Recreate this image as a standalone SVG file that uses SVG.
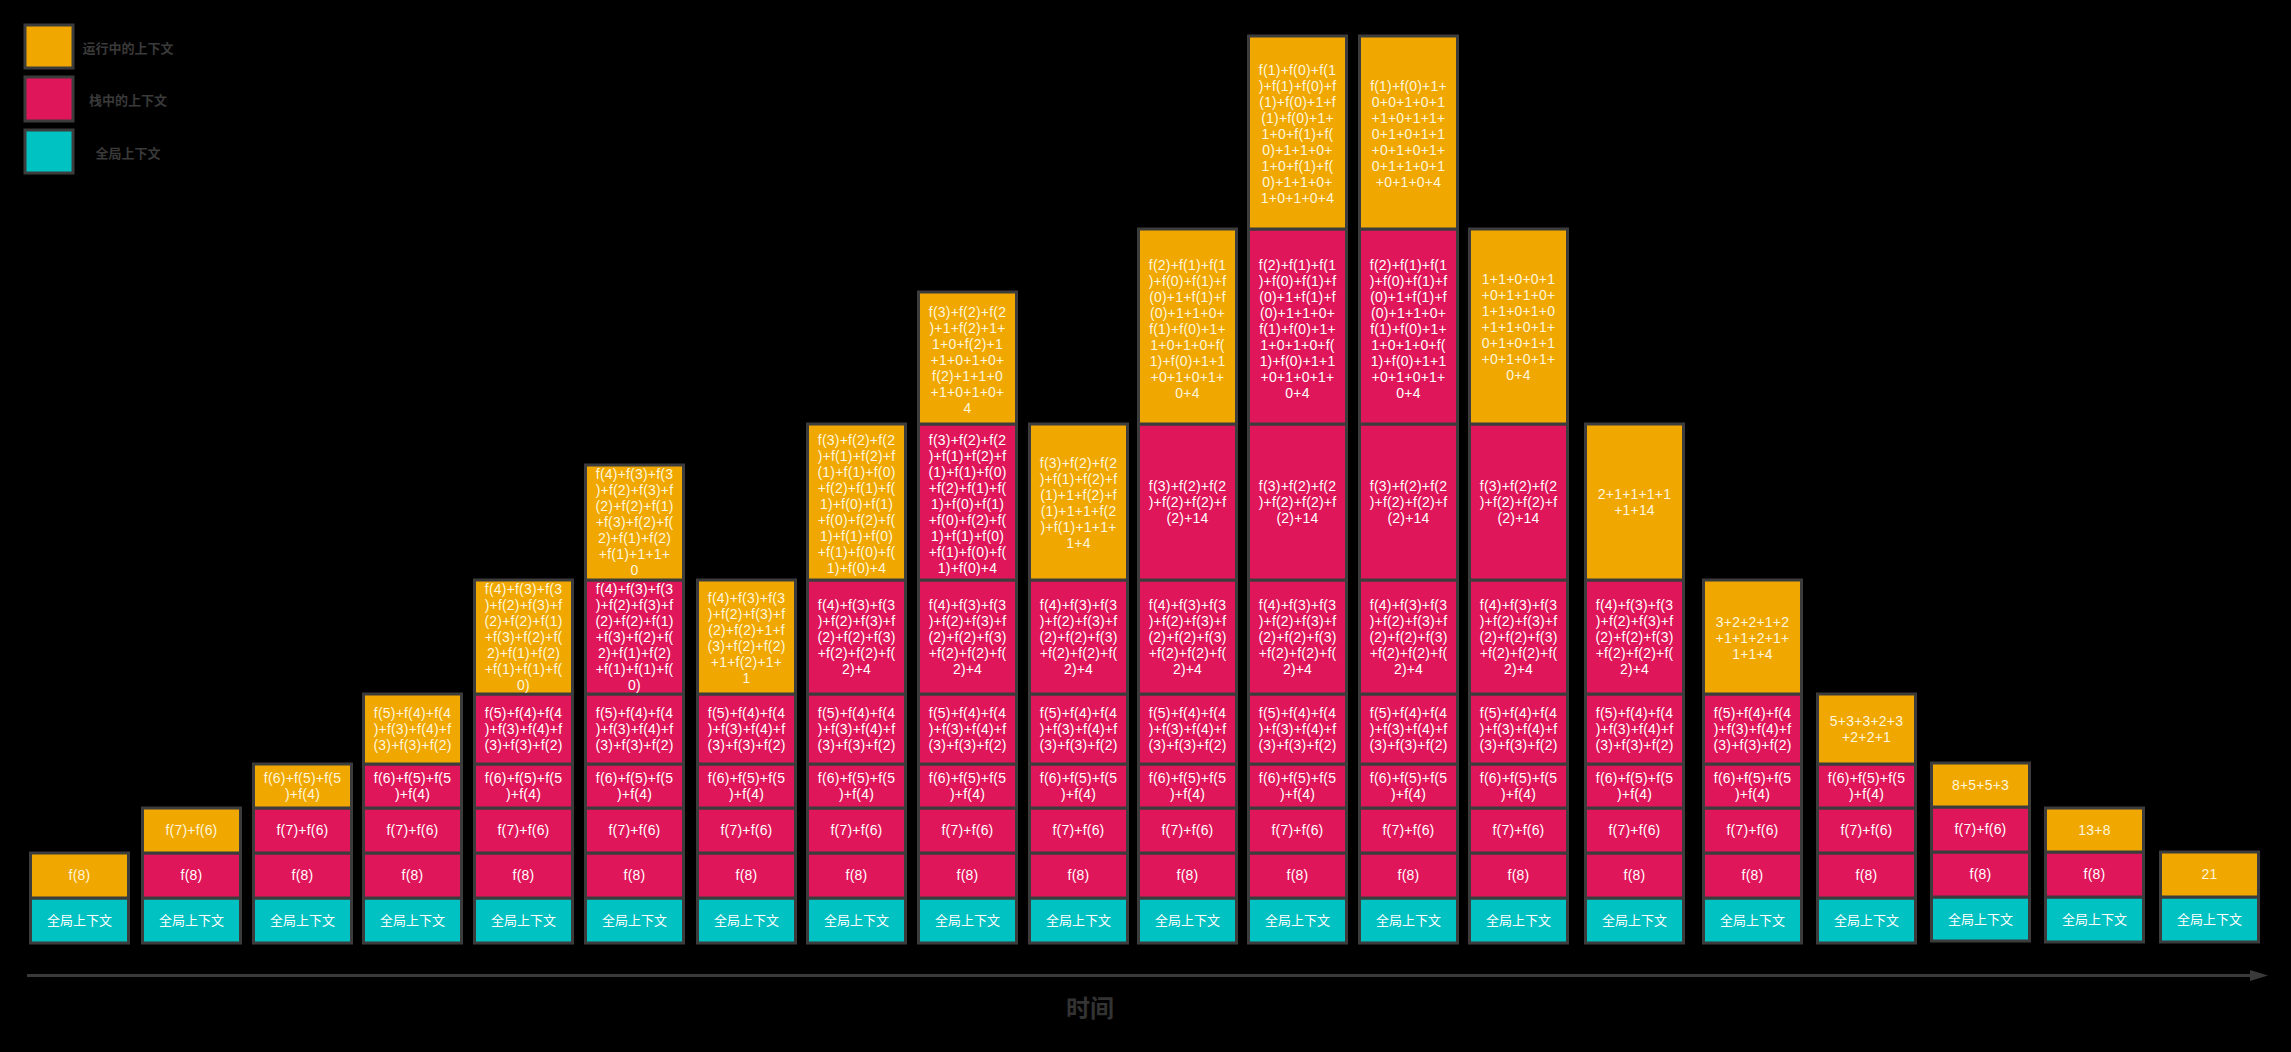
<svg xmlns="http://www.w3.org/2000/svg" width="2291" height="1052" viewBox="0 0 2291 1052">
<style>
.c{stroke:#3c3c3c;stroke-width:3}
.o{fill:#f0a800}
.p{fill:#e0165a}
.g{fill:#00c2c2}
.t{font-family:"Liberation Sans","Noto Sans CJK SC",sans-serif;font-size:14px;letter-spacing:0.2px;fill:#ffffff;text-anchor:middle}
.to{fill:#fff6dc}
.tz{font-size:13px;letter-spacing:0}
.lg{font-family:"Noto Sans CJK SC","Liberation Sans",sans-serif;font-size:13px;font-weight:bold;fill:#3a3a3a;text-anchor:middle}
.ax{stroke:#3a3a3a;stroke-width:3;fill:none}
</style>
<defs>
<marker id="ah" viewBox="0 0 18 11" refX="0" refY="5.5" markerWidth="18" markerHeight="11" markerUnits="userSpaceOnUse" orient="auto"><path d="M0,0 L18,5.5 L0,11 Z" fill="#3a3a3a"/></marker>
</defs>
<rect x="0" y="0" width="2291" height="1052" fill="#000000"/>

<g id="legend">
<g id="legend-running"><rect class="c o" x="25" y="25" width="48" height="43"/><text class="lg" x="128" y="52.5">运行中的上下文</text></g>
<g id="legend-stack"><rect class="c p" x="25" y="77" width="48" height="44"/><text class="lg" x="128" y="104.5">栈中的上下文</text></g>
<g id="legend-global"><rect class="c g" x="25" y="130" width="48" height="43"/><text class="lg" x="128" y="157.5">全局上下文</text></g>
</g>

<g id="connectors">
<line class="ax" x1="27" y1="975.5" x2="2250" y2="975.5" marker-end="url(#ah)"/>
</g>
<text x="1090" y="1017" font-family="Noto Sans CJK SC, Liberation Sans, sans-serif" font-size="24" font-weight="bold" fill="#333333" text-anchor="middle">时间</text>

<!-- column 1 -->
<g id="col1">
<g id="c1-0"><rect class="c g" x="30.5" y="898" width="98" height="45"/><text class="t tz" x="79.5" y="925">全局上下文</text></g>
<g id="c1-1"><rect class="c o" x="30.5" y="853" width="98" height="45"/><text class="t to" x="79.5" y="880">f(8)</text></g>
</g>

<!-- column 2 -->
<g id="col2">
<g id="c2-0"><rect class="c g" x="142.5" y="898" width="98" height="45"/><text class="t tz" x="191.5" y="925">全局上下文</text></g>
<g id="c2-1"><rect class="c p" x="142.5" y="853" width="98" height="45"/><text class="t" x="191.5" y="880">f(8)</text></g>
<g id="c2-2"><rect class="c o" x="142.5" y="808" width="98" height="45"/><text class="t to" x="191.5" y="835">f(7)+f(6)</text></g>
</g>

<!-- column 3 -->
<g id="col3">
<g id="c3-0"><rect class="c g" x="253.5" y="898" width="98" height="45"/><text class="t tz" x="302.5" y="925">全局上下文</text></g>
<g id="c3-1"><rect class="c p" x="253.5" y="853" width="98" height="45"/><text class="t" x="302.5" y="880">f(8)</text></g>
<g id="c3-2"><rect class="c p" x="253.5" y="808" width="98" height="45"/><text class="t" x="302.5" y="835">f(7)+f(6)</text></g>
<g id="c3-3"><rect class="c o" x="253.5" y="764" width="98" height="44"/><text class="t to" x="302.5" y="782.5"><tspan x="302.5">f(6)+f(5)+f(5</tspan><tspan x="302.5" dy="16">)+f(4)</tspan></text></g>
</g>

<!-- column 4 -->
<g id="col4">
<g id="c4-0"><rect class="c g" x="363.5" y="898" width="98" height="45"/><text class="t tz" x="412.5" y="925">全局上下文</text></g>
<g id="c4-1"><rect class="c p" x="363.5" y="853" width="98" height="45"/><text class="t" x="412.5" y="880">f(8)</text></g>
<g id="c4-2"><rect class="c p" x="363.5" y="808" width="98" height="45"/><text class="t" x="412.5" y="835">f(7)+f(6)</text></g>
<g id="c4-3"><rect class="c p" x="363.5" y="764" width="98" height="44"/><text class="t" x="412.5" y="782.5"><tspan x="412.5">f(6)+f(5)+f(5</tspan><tspan x="412.5" dy="16">)+f(4)</tspan></text></g>
<g id="c4-4"><rect class="c o" x="363.5" y="694" width="98" height="70"/><text class="t to" x="412.5" y="717.5"><tspan x="412.5">f(5)+f(4)+f(4</tspan><tspan x="412.5" dy="16">)+f(3)+f(4)+f</tspan><tspan x="412.5" dy="16">(3)+f(3)+f(2)</tspan></text></g>
</g>

<!-- column 5 -->
<g id="col5">
<g id="c5-0"><rect class="c g" x="474.5" y="898" width="98" height="45"/><text class="t tz" x="523.5" y="925">全局上下文</text></g>
<g id="c5-1"><rect class="c p" x="474.5" y="853" width="98" height="45"/><text class="t" x="523.5" y="880">f(8)</text></g>
<g id="c5-2"><rect class="c p" x="474.5" y="808" width="98" height="45"/><text class="t" x="523.5" y="835">f(7)+f(6)</text></g>
<g id="c5-3"><rect class="c p" x="474.5" y="764" width="98" height="44"/><text class="t" x="523.5" y="782.5"><tspan x="523.5">f(6)+f(5)+f(5</tspan><tspan x="523.5" dy="16">)+f(4)</tspan></text></g>
<g id="c5-4"><rect class="c p" x="474.5" y="694" width="98" height="70"/><text class="t" x="523.5" y="717.5"><tspan x="523.5">f(5)+f(4)+f(4</tspan><tspan x="523.5" dy="16">)+f(3)+f(4)+f</tspan><tspan x="523.5" dy="16">(3)+f(3)+f(2)</tspan></text></g>
<g id="c5-5"><rect class="c o" x="474.5" y="580" width="98" height="114"/><text class="t to" x="523.5" y="594"><tspan x="523.5">f(4)+f(3)+f(3</tspan><tspan x="523.5" dy="16">)+f(2)+f(3)+f</tspan><tspan x="523.5" dy="16">(2)+f(2)+f(1)</tspan><tspan x="523.5" dy="16">+f(3)+f(2)+f(</tspan><tspan x="523.5" dy="16">2)+f(1)+f(2)</tspan><tspan x="523.5" dy="16">+f(1)+f(1)+f(</tspan><tspan x="523.5" dy="16">0)</tspan></text></g>
</g>

<!-- column 6 -->
<g id="col6">
<g id="c6-0"><rect class="c g" x="585.5" y="898" width="98" height="45"/><text class="t tz" x="634.5" y="925">全局上下文</text></g>
<g id="c6-1"><rect class="c p" x="585.5" y="853" width="98" height="45"/><text class="t" x="634.5" y="880">f(8)</text></g>
<g id="c6-2"><rect class="c p" x="585.5" y="808" width="98" height="45"/><text class="t" x="634.5" y="835">f(7)+f(6)</text></g>
<g id="c6-3"><rect class="c p" x="585.5" y="764" width="98" height="44"/><text class="t" x="634.5" y="782.5"><tspan x="634.5">f(6)+f(5)+f(5</tspan><tspan x="634.5" dy="16">)+f(4)</tspan></text></g>
<g id="c6-4"><rect class="c p" x="585.5" y="694" width="98" height="70"/><text class="t" x="634.5" y="717.5"><tspan x="634.5">f(5)+f(4)+f(4</tspan><tspan x="634.5" dy="16">)+f(3)+f(4)+f</tspan><tspan x="634.5" dy="16">(3)+f(3)+f(2)</tspan></text></g>
<g id="c6-5"><rect class="c p" x="585.5" y="580" width="98" height="114"/><text class="t" x="634.5" y="594"><tspan x="634.5">f(4)+f(3)+f(3</tspan><tspan x="634.5" dy="16">)+f(2)+f(3)+f</tspan><tspan x="634.5" dy="16">(2)+f(2)+f(1)</tspan><tspan x="634.5" dy="16">+f(3)+f(2)+f(</tspan><tspan x="634.5" dy="16">2)+f(1)+f(2)</tspan><tspan x="634.5" dy="16">+f(1)+f(1)+f(</tspan><tspan x="634.5" dy="16">0)</tspan></text></g>
<g id="c6-6"><rect class="c o" x="585.5" y="465" width="98" height="115"/><text class="t to" x="634.5" y="479"><tspan x="634.5">f(4)+f(3)+f(3</tspan><tspan x="634.5" dy="16">)+f(2)+f(3)+f</tspan><tspan x="634.5" dy="16">(2)+f(2)+f(1)</tspan><tspan x="634.5" dy="16">+f(3)+f(2)+f(</tspan><tspan x="634.5" dy="16">2)+f(1)+f(2)</tspan><tspan x="634.5" dy="16">+f(1)+1+1+</tspan><tspan x="634.5" dy="16">0</tspan></text></g>
</g>

<!-- column 7 -->
<g id="col7">
<g id="c7-0"><rect class="c g" x="697.5" y="898" width="98" height="45"/><text class="t tz" x="746.5" y="925">全局上下文</text></g>
<g id="c7-1"><rect class="c p" x="697.5" y="853" width="98" height="45"/><text class="t" x="746.5" y="880">f(8)</text></g>
<g id="c7-2"><rect class="c p" x="697.5" y="808" width="98" height="45"/><text class="t" x="746.5" y="835">f(7)+f(6)</text></g>
<g id="c7-3"><rect class="c p" x="697.5" y="764" width="98" height="44"/><text class="t" x="746.5" y="782.5"><tspan x="746.5">f(6)+f(5)+f(5</tspan><tspan x="746.5" dy="16">)+f(4)</tspan></text></g>
<g id="c7-4"><rect class="c p" x="697.5" y="694" width="98" height="70"/><text class="t" x="746.5" y="717.5"><tspan x="746.5">f(5)+f(4)+f(4</tspan><tspan x="746.5" dy="16">)+f(3)+f(4)+f</tspan><tspan x="746.5" dy="16">(3)+f(3)+f(2)</tspan></text></g>
<g id="c7-5"><rect class="c o" x="697.5" y="580" width="98" height="114"/><text class="t to" x="746.5" y="603"><tspan x="746.5">f(4)+f(3)+f(3</tspan><tspan x="746.5" dy="16">)+f(2)+f(3)+f</tspan><tspan x="746.5" dy="16">(2)+f(2)+1+f</tspan><tspan x="746.5" dy="16">(3)+f(2)+f(2)</tspan><tspan x="746.5" dy="16">+1+f(2)+1+</tspan><tspan x="746.5" dy="16">1</tspan></text></g>
</g>

<!-- column 8 -->
<g id="col8">
<g id="c8-0"><rect class="c g" x="807.5" y="898" width="98" height="45"/><text class="t tz" x="856.5" y="925">全局上下文</text></g>
<g id="c8-1"><rect class="c p" x="807.5" y="853" width="98" height="45"/><text class="t" x="856.5" y="880">f(8)</text></g>
<g id="c8-2"><rect class="c p" x="807.5" y="808" width="98" height="45"/><text class="t" x="856.5" y="835">f(7)+f(6)</text></g>
<g id="c8-3"><rect class="c p" x="807.5" y="764" width="98" height="44"/><text class="t" x="856.5" y="782.5"><tspan x="856.5">f(6)+f(5)+f(5</tspan><tspan x="856.5" dy="16">)+f(4)</tspan></text></g>
<g id="c8-4"><rect class="c p" x="807.5" y="694" width="98" height="70"/><text class="t" x="856.5" y="717.5"><tspan x="856.5">f(5)+f(4)+f(4</tspan><tspan x="856.5" dy="16">)+f(3)+f(4)+f</tspan><tspan x="856.5" dy="16">(3)+f(3)+f(2)</tspan></text></g>
<g id="c8-5"><rect class="c p" x="807.5" y="580" width="98" height="114"/><text class="t" x="856.5" y="609.5"><tspan x="856.5">f(4)+f(3)+f(3</tspan><tspan x="856.5" dy="16">)+f(2)+f(3)+f</tspan><tspan x="856.5" dy="16">(2)+f(2)+f(3)</tspan><tspan x="856.5" dy="16">+f(2)+f(2)+f(</tspan><tspan x="856.5" dy="16">2)+4</tspan></text></g>
<g id="c8-6"><rect class="c o" x="807.5" y="424" width="98" height="156"/><text class="t to" x="856.5" y="444.5"><tspan x="856.5">f(3)+f(2)+f(2</tspan><tspan x="856.5" dy="16">)+f(1)+f(2)+f</tspan><tspan x="856.5" dy="16">(1)+f(1)+f(0)</tspan><tspan x="856.5" dy="16">+f(2)+f(1)+f(</tspan><tspan x="856.5" dy="16">1)+f(0)+f(1)</tspan><tspan x="856.5" dy="16">+f(0)+f(2)+f(</tspan><tspan x="856.5" dy="16">1)+f(1)+f(0)</tspan><tspan x="856.5" dy="16">+f(1)+f(0)+f(</tspan><tspan x="856.5" dy="16">1)+f(0)+4</tspan></text></g>
</g>

<!-- column 9 -->
<g id="col9">
<g id="c9-0"><rect class="c g" x="918.5" y="898" width="98" height="45"/><text class="t tz" x="967.5" y="925">全局上下文</text></g>
<g id="c9-1"><rect class="c p" x="918.5" y="853" width="98" height="45"/><text class="t" x="967.5" y="880">f(8)</text></g>
<g id="c9-2"><rect class="c p" x="918.5" y="808" width="98" height="45"/><text class="t" x="967.5" y="835">f(7)+f(6)</text></g>
<g id="c9-3"><rect class="c p" x="918.5" y="764" width="98" height="44"/><text class="t" x="967.5" y="782.5"><tspan x="967.5">f(6)+f(5)+f(5</tspan><tspan x="967.5" dy="16">)+f(4)</tspan></text></g>
<g id="c9-4"><rect class="c p" x="918.5" y="694" width="98" height="70"/><text class="t" x="967.5" y="717.5"><tspan x="967.5">f(5)+f(4)+f(4</tspan><tspan x="967.5" dy="16">)+f(3)+f(4)+f</tspan><tspan x="967.5" dy="16">(3)+f(3)+f(2)</tspan></text></g>
<g id="c9-5"><rect class="c p" x="918.5" y="580" width="98" height="114"/><text class="t" x="967.5" y="609.5"><tspan x="967.5">f(4)+f(3)+f(3</tspan><tspan x="967.5" dy="16">)+f(2)+f(3)+f</tspan><tspan x="967.5" dy="16">(2)+f(2)+f(3)</tspan><tspan x="967.5" dy="16">+f(2)+f(2)+f(</tspan><tspan x="967.5" dy="16">2)+4</tspan></text></g>
<g id="c9-6"><rect class="c p" x="918.5" y="424" width="98" height="156"/><text class="t" x="967.5" y="444.5"><tspan x="967.5">f(3)+f(2)+f(2</tspan><tspan x="967.5" dy="16">)+f(1)+f(2)+f</tspan><tspan x="967.5" dy="16">(1)+f(1)+f(0)</tspan><tspan x="967.5" dy="16">+f(2)+f(1)+f(</tspan><tspan x="967.5" dy="16">1)+f(0)+f(1)</tspan><tspan x="967.5" dy="16">+f(0)+f(2)+f(</tspan><tspan x="967.5" dy="16">1)+f(1)+f(0)</tspan><tspan x="967.5" dy="16">+f(1)+f(0)+f(</tspan><tspan x="967.5" dy="16">1)+f(0)+4</tspan></text></g>
<g id="c9-7"><rect class="c o" x="918.5" y="292" width="98" height="132"/><text class="t to" x="967.5" y="316.5"><tspan x="967.5">f(3)+f(2)+f(2</tspan><tspan x="967.5" dy="16">)+1+f(2)+1+</tspan><tspan x="967.5" dy="16">1+0+f(2)+1</tspan><tspan x="967.5" dy="16">+1+0+1+0+</tspan><tspan x="967.5" dy="16">f(2)+1+1+0</tspan><tspan x="967.5" dy="16">+1+0+1+0+</tspan><tspan x="967.5" dy="16">4</tspan></text></g>
</g>

<!-- column 10 -->
<g id="col10">
<g id="c10-0"><rect class="c g" x="1029.5" y="898" width="98" height="45"/><text class="t tz" x="1078.5" y="925">全局上下文</text></g>
<g id="c10-1"><rect class="c p" x="1029.5" y="853" width="98" height="45"/><text class="t" x="1078.5" y="880">f(8)</text></g>
<g id="c10-2"><rect class="c p" x="1029.5" y="808" width="98" height="45"/><text class="t" x="1078.5" y="835">f(7)+f(6)</text></g>
<g id="c10-3"><rect class="c p" x="1029.5" y="764" width="98" height="44"/><text class="t" x="1078.5" y="782.5"><tspan x="1078.5">f(6)+f(5)+f(5</tspan><tspan x="1078.5" dy="16">)+f(4)</tspan></text></g>
<g id="c10-4"><rect class="c p" x="1029.5" y="694" width="98" height="70"/><text class="t" x="1078.5" y="717.5"><tspan x="1078.5">f(5)+f(4)+f(4</tspan><tspan x="1078.5" dy="16">)+f(3)+f(4)+f</tspan><tspan x="1078.5" dy="16">(3)+f(3)+f(2)</tspan></text></g>
<g id="c10-5"><rect class="c p" x="1029.5" y="580" width="98" height="114"/><text class="t" x="1078.5" y="609.5"><tspan x="1078.5">f(4)+f(3)+f(3</tspan><tspan x="1078.5" dy="16">)+f(2)+f(3)+f</tspan><tspan x="1078.5" dy="16">(2)+f(2)+f(3)</tspan><tspan x="1078.5" dy="16">+f(2)+f(2)+f(</tspan><tspan x="1078.5" dy="16">2)+4</tspan></text></g>
<g id="c10-6"><rect class="c o" x="1029.5" y="424" width="98" height="156"/><text class="t to" x="1078.5" y="467.5"><tspan x="1078.5">f(3)+f(2)+f(2</tspan><tspan x="1078.5" dy="16">)+f(1)+f(2)+f</tspan><tspan x="1078.5" dy="16">(1)+1+f(2)+f</tspan><tspan x="1078.5" dy="16">(1)+1+1+f(2</tspan><tspan x="1078.5" dy="16">)+f(1)+1+1+</tspan><tspan x="1078.5" dy="16">1+4</tspan></text></g>
</g>

<!-- column 11 -->
<g id="col11">
<g id="c11-0"><rect class="c g" x="1138.5" y="898" width="98" height="45"/><text class="t tz" x="1187.5" y="925">全局上下文</text></g>
<g id="c11-1"><rect class="c p" x="1138.5" y="853" width="98" height="45"/><text class="t" x="1187.5" y="880">f(8)</text></g>
<g id="c11-2"><rect class="c p" x="1138.5" y="808" width="98" height="45"/><text class="t" x="1187.5" y="835">f(7)+f(6)</text></g>
<g id="c11-3"><rect class="c p" x="1138.5" y="764" width="98" height="44"/><text class="t" x="1187.5" y="782.5"><tspan x="1187.5">f(6)+f(5)+f(5</tspan><tspan x="1187.5" dy="16">)+f(4)</tspan></text></g>
<g id="c11-4"><rect class="c p" x="1138.5" y="694" width="98" height="70"/><text class="t" x="1187.5" y="717.5"><tspan x="1187.5">f(5)+f(4)+f(4</tspan><tspan x="1187.5" dy="16">)+f(3)+f(4)+f</tspan><tspan x="1187.5" dy="16">(3)+f(3)+f(2)</tspan></text></g>
<g id="c11-5"><rect class="c p" x="1138.5" y="580" width="98" height="114"/><text class="t" x="1187.5" y="609.5"><tspan x="1187.5">f(4)+f(3)+f(3</tspan><tspan x="1187.5" dy="16">)+f(2)+f(3)+f</tspan><tspan x="1187.5" dy="16">(2)+f(2)+f(3)</tspan><tspan x="1187.5" dy="16">+f(2)+f(2)+f(</tspan><tspan x="1187.5" dy="16">2)+4</tspan></text></g>
<g id="c11-6"><rect class="c p" x="1138.5" y="424" width="98" height="156"/><text class="t" x="1187.5" y="490.5"><tspan x="1187.5">f(3)+f(2)+f(2</tspan><tspan x="1187.5" dy="16">)+f(2)+f(2)+f</tspan><tspan x="1187.5" dy="16">(2)+14</tspan></text></g>
<g id="c11-7"><rect class="c o" x="1138.5" y="229" width="98" height="195"/><text class="t to" x="1187.5" y="269.5"><tspan x="1187.5">f(2)+f(1)+f(1</tspan><tspan x="1187.5" dy="16">)+f(0)+f(1)+f</tspan><tspan x="1187.5" dy="16">(0)+1+f(1)+f</tspan><tspan x="1187.5" dy="16">(0)+1+1+0+</tspan><tspan x="1187.5" dy="16">f(1)+f(0)+1+</tspan><tspan x="1187.5" dy="16">1+0+1+0+f(</tspan><tspan x="1187.5" dy="16">1)+f(0)+1+1</tspan><tspan x="1187.5" dy="16">+0+1+0+1+</tspan><tspan x="1187.5" dy="16">0+4</tspan></text></g>
</g>

<!-- column 12 -->
<g id="col12">
<g id="c12-0"><rect class="c g" x="1248.5" y="898" width="98" height="45"/><text class="t tz" x="1297.5" y="925">全局上下文</text></g>
<g id="c12-1"><rect class="c p" x="1248.5" y="853" width="98" height="45"/><text class="t" x="1297.5" y="880">f(8)</text></g>
<g id="c12-2"><rect class="c p" x="1248.5" y="808" width="98" height="45"/><text class="t" x="1297.5" y="835">f(7)+f(6)</text></g>
<g id="c12-3"><rect class="c p" x="1248.5" y="764" width="98" height="44"/><text class="t" x="1297.5" y="782.5"><tspan x="1297.5">f(6)+f(5)+f(5</tspan><tspan x="1297.5" dy="16">)+f(4)</tspan></text></g>
<g id="c12-4"><rect class="c p" x="1248.5" y="694" width="98" height="70"/><text class="t" x="1297.5" y="717.5"><tspan x="1297.5">f(5)+f(4)+f(4</tspan><tspan x="1297.5" dy="16">)+f(3)+f(4)+f</tspan><tspan x="1297.5" dy="16">(3)+f(3)+f(2)</tspan></text></g>
<g id="c12-5"><rect class="c p" x="1248.5" y="580" width="98" height="114"/><text class="t" x="1297.5" y="609.5"><tspan x="1297.5">f(4)+f(3)+f(3</tspan><tspan x="1297.5" dy="16">)+f(2)+f(3)+f</tspan><tspan x="1297.5" dy="16">(2)+f(2)+f(3)</tspan><tspan x="1297.5" dy="16">+f(2)+f(2)+f(</tspan><tspan x="1297.5" dy="16">2)+4</tspan></text></g>
<g id="c12-6"><rect class="c p" x="1248.5" y="424" width="98" height="156"/><text class="t" x="1297.5" y="490.5"><tspan x="1297.5">f(3)+f(2)+f(2</tspan><tspan x="1297.5" dy="16">)+f(2)+f(2)+f</tspan><tspan x="1297.5" dy="16">(2)+14</tspan></text></g>
<g id="c12-7"><rect class="c p" x="1248.5" y="229" width="98" height="195"/><text class="t" x="1297.5" y="269.5"><tspan x="1297.5">f(2)+f(1)+f(1</tspan><tspan x="1297.5" dy="16">)+f(0)+f(1)+f</tspan><tspan x="1297.5" dy="16">(0)+1+f(1)+f</tspan><tspan x="1297.5" dy="16">(0)+1+1+0+</tspan><tspan x="1297.5" dy="16">f(1)+f(0)+1+</tspan><tspan x="1297.5" dy="16">1+0+1+0+f(</tspan><tspan x="1297.5" dy="16">1)+f(0)+1+1</tspan><tspan x="1297.5" dy="16">+0+1+0+1+</tspan><tspan x="1297.5" dy="16">0+4</tspan></text></g>
<g id="c12-8"><rect class="c o" x="1248.5" y="36" width="98" height="193"/><text class="t to" x="1297.5" y="75"><tspan x="1297.5">f(1)+f(0)+f(1</tspan><tspan x="1297.5" dy="16">)+f(1)+f(0)+f</tspan><tspan x="1297.5" dy="16">(1)+f(0)+1+f</tspan><tspan x="1297.5" dy="16">(1)+f(0)+1+</tspan><tspan x="1297.5" dy="16">1+0+f(1)+f(</tspan><tspan x="1297.5" dy="16">0)+1+1+0+</tspan><tspan x="1297.5" dy="16">1+0+f(1)+f(</tspan><tspan x="1297.5" dy="16">0)+1+1+0+</tspan><tspan x="1297.5" dy="16">1+0+1+0+4</tspan></text></g>
</g>

<!-- column 13 -->
<g id="col13">
<g id="c13-0"><rect class="c g" x="1359.5" y="898" width="98" height="45"/><text class="t tz" x="1408.5" y="925">全局上下文</text></g>
<g id="c13-1"><rect class="c p" x="1359.5" y="853" width="98" height="45"/><text class="t" x="1408.5" y="880">f(8)</text></g>
<g id="c13-2"><rect class="c p" x="1359.5" y="808" width="98" height="45"/><text class="t" x="1408.5" y="835">f(7)+f(6)</text></g>
<g id="c13-3"><rect class="c p" x="1359.5" y="764" width="98" height="44"/><text class="t" x="1408.5" y="782.5"><tspan x="1408.5">f(6)+f(5)+f(5</tspan><tspan x="1408.5" dy="16">)+f(4)</tspan></text></g>
<g id="c13-4"><rect class="c p" x="1359.5" y="694" width="98" height="70"/><text class="t" x="1408.5" y="717.5"><tspan x="1408.5">f(5)+f(4)+f(4</tspan><tspan x="1408.5" dy="16">)+f(3)+f(4)+f</tspan><tspan x="1408.5" dy="16">(3)+f(3)+f(2)</tspan></text></g>
<g id="c13-5"><rect class="c p" x="1359.5" y="580" width="98" height="114"/><text class="t" x="1408.5" y="609.5"><tspan x="1408.5">f(4)+f(3)+f(3</tspan><tspan x="1408.5" dy="16">)+f(2)+f(3)+f</tspan><tspan x="1408.5" dy="16">(2)+f(2)+f(3)</tspan><tspan x="1408.5" dy="16">+f(2)+f(2)+f(</tspan><tspan x="1408.5" dy="16">2)+4</tspan></text></g>
<g id="c13-6"><rect class="c p" x="1359.5" y="424" width="98" height="156"/><text class="t" x="1408.5" y="490.5"><tspan x="1408.5">f(3)+f(2)+f(2</tspan><tspan x="1408.5" dy="16">)+f(2)+f(2)+f</tspan><tspan x="1408.5" dy="16">(2)+14</tspan></text></g>
<g id="c13-7"><rect class="c p" x="1359.5" y="229" width="98" height="195"/><text class="t" x="1408.5" y="269.5"><tspan x="1408.5">f(2)+f(1)+f(1</tspan><tspan x="1408.5" dy="16">)+f(0)+f(1)+f</tspan><tspan x="1408.5" dy="16">(0)+1+f(1)+f</tspan><tspan x="1408.5" dy="16">(0)+1+1+0+</tspan><tspan x="1408.5" dy="16">f(1)+f(0)+1+</tspan><tspan x="1408.5" dy="16">1+0+1+0+f(</tspan><tspan x="1408.5" dy="16">1)+f(0)+1+1</tspan><tspan x="1408.5" dy="16">+0+1+0+1+</tspan><tspan x="1408.5" dy="16">0+4</tspan></text></g>
<g id="c13-8"><rect class="c o" x="1359.5" y="36" width="98" height="193"/><text class="t to" x="1408.5" y="91"><tspan x="1408.5">f(1)+f(0)+1+</tspan><tspan x="1408.5" dy="16">0+0+1+0+1</tspan><tspan x="1408.5" dy="16">+1+0+1+1+</tspan><tspan x="1408.5" dy="16">0+1+0+1+1</tspan><tspan x="1408.5" dy="16">+0+1+0+1+</tspan><tspan x="1408.5" dy="16">0+1+1+0+1</tspan><tspan x="1408.5" dy="16">+0+1+0+4</tspan></text></g>
</g>

<!-- column 14 -->
<g id="col14">
<g id="c14-0"><rect class="c g" x="1469.5" y="898" width="98" height="45"/><text class="t tz" x="1518.5" y="925">全局上下文</text></g>
<g id="c14-1"><rect class="c p" x="1469.5" y="853" width="98" height="45"/><text class="t" x="1518.5" y="880">f(8)</text></g>
<g id="c14-2"><rect class="c p" x="1469.5" y="808" width="98" height="45"/><text class="t" x="1518.5" y="835">f(7)+f(6)</text></g>
<g id="c14-3"><rect class="c p" x="1469.5" y="764" width="98" height="44"/><text class="t" x="1518.5" y="782.5"><tspan x="1518.5">f(6)+f(5)+f(5</tspan><tspan x="1518.5" dy="16">)+f(4)</tspan></text></g>
<g id="c14-4"><rect class="c p" x="1469.5" y="694" width="98" height="70"/><text class="t" x="1518.5" y="717.5"><tspan x="1518.5">f(5)+f(4)+f(4</tspan><tspan x="1518.5" dy="16">)+f(3)+f(4)+f</tspan><tspan x="1518.5" dy="16">(3)+f(3)+f(2)</tspan></text></g>
<g id="c14-5"><rect class="c p" x="1469.5" y="580" width="98" height="114"/><text class="t" x="1518.5" y="609.5"><tspan x="1518.5">f(4)+f(3)+f(3</tspan><tspan x="1518.5" dy="16">)+f(2)+f(3)+f</tspan><tspan x="1518.5" dy="16">(2)+f(2)+f(3)</tspan><tspan x="1518.5" dy="16">+f(2)+f(2)+f(</tspan><tspan x="1518.5" dy="16">2)+4</tspan></text></g>
<g id="c14-6"><rect class="c p" x="1469.5" y="424" width="98" height="156"/><text class="t" x="1518.5" y="490.5"><tspan x="1518.5">f(3)+f(2)+f(2</tspan><tspan x="1518.5" dy="16">)+f(2)+f(2)+f</tspan><tspan x="1518.5" dy="16">(2)+14</tspan></text></g>
<g id="c14-7"><rect class="c o" x="1469.5" y="229" width="98" height="195"/><text class="t to" x="1518.5" y="283.5"><tspan x="1518.5">1+1+0+0+1</tspan><tspan x="1518.5" dy="16">+0+1+1+0+</tspan><tspan x="1518.5" dy="16">1+1+0+1+0</tspan><tspan x="1518.5" dy="16">+1+1+0+1+</tspan><tspan x="1518.5" dy="16">0+1+0+1+1</tspan><tspan x="1518.5" dy="16">+0+1+0+1+</tspan><tspan x="1518.5" dy="16">0+4</tspan></text></g>
</g>

<!-- column 15 -->
<g id="col15">
<g id="c15-0"><rect class="c g" x="1585.5" y="898" width="98" height="45"/><text class="t tz" x="1634.5" y="925">全局上下文</text></g>
<g id="c15-1"><rect class="c p" x="1585.5" y="853" width="98" height="45"/><text class="t" x="1634.5" y="880">f(8)</text></g>
<g id="c15-2"><rect class="c p" x="1585.5" y="808" width="98" height="45"/><text class="t" x="1634.5" y="835">f(7)+f(6)</text></g>
<g id="c15-3"><rect class="c p" x="1585.5" y="764" width="98" height="44"/><text class="t" x="1634.5" y="782.5"><tspan x="1634.5">f(6)+f(5)+f(5</tspan><tspan x="1634.5" dy="16">)+f(4)</tspan></text></g>
<g id="c15-4"><rect class="c p" x="1585.5" y="694" width="98" height="70"/><text class="t" x="1634.5" y="717.5"><tspan x="1634.5">f(5)+f(4)+f(4</tspan><tspan x="1634.5" dy="16">)+f(3)+f(4)+f</tspan><tspan x="1634.5" dy="16">(3)+f(3)+f(2)</tspan></text></g>
<g id="c15-5"><rect class="c p" x="1585.5" y="580" width="98" height="114"/><text class="t" x="1634.5" y="609.5"><tspan x="1634.5">f(4)+f(3)+f(3</tspan><tspan x="1634.5" dy="16">)+f(2)+f(3)+f</tspan><tspan x="1634.5" dy="16">(2)+f(2)+f(3)</tspan><tspan x="1634.5" dy="16">+f(2)+f(2)+f(</tspan><tspan x="1634.5" dy="16">2)+4</tspan></text></g>
<g id="c15-6"><rect class="c o" x="1585.5" y="424" width="98" height="156"/><text class="t to" x="1634.5" y="498.5"><tspan x="1634.5">2+1+1+1+1</tspan><tspan x="1634.5" dy="16">+1+14</tspan></text></g>
</g>

<!-- column 16 -->
<g id="col16">
<g id="c16-0"><rect class="c g" x="1703.5" y="898" width="98" height="45"/><text class="t tz" x="1752.5" y="925">全局上下文</text></g>
<g id="c16-1"><rect class="c p" x="1703.5" y="853" width="98" height="45"/><text class="t" x="1752.5" y="880">f(8)</text></g>
<g id="c16-2"><rect class="c p" x="1703.5" y="808" width="98" height="45"/><text class="t" x="1752.5" y="835">f(7)+f(6)</text></g>
<g id="c16-3"><rect class="c p" x="1703.5" y="764" width="98" height="44"/><text class="t" x="1752.5" y="782.5"><tspan x="1752.5">f(6)+f(5)+f(5</tspan><tspan x="1752.5" dy="16">)+f(4)</tspan></text></g>
<g id="c16-4"><rect class="c p" x="1703.5" y="694" width="98" height="70"/><text class="t" x="1752.5" y="717.5"><tspan x="1752.5">f(5)+f(4)+f(4</tspan><tspan x="1752.5" dy="16">)+f(3)+f(4)+f</tspan><tspan x="1752.5" dy="16">(3)+f(3)+f(2)</tspan></text></g>
<g id="c16-5"><rect class="c o" x="1703.5" y="580" width="98" height="114"/><text class="t to" x="1752.5" y="627"><tspan x="1752.5">3+2+2+1+2</tspan><tspan x="1752.5" dy="16">+1+1+2+1+</tspan><tspan x="1752.5" dy="16">1+1+4</tspan></text></g>
</g>

<!-- column 17 -->
<g id="col17">
<g id="c17-0"><rect class="c g" x="1817.5" y="898" width="98" height="45"/><text class="t tz" x="1866.5" y="925">全局上下文</text></g>
<g id="c17-1"><rect class="c p" x="1817.5" y="853" width="98" height="45"/><text class="t" x="1866.5" y="880">f(8)</text></g>
<g id="c17-2"><rect class="c p" x="1817.5" y="808" width="98" height="45"/><text class="t" x="1866.5" y="835">f(7)+f(6)</text></g>
<g id="c17-3"><rect class="c p" x="1817.5" y="764" width="98" height="44"/><text class="t" x="1866.5" y="782.5"><tspan x="1866.5">f(6)+f(5)+f(5</tspan><tspan x="1866.5" dy="16">)+f(4)</tspan></text></g>
<g id="c17-4"><rect class="c o" x="1817.5" y="694" width="98" height="70"/><text class="t to" x="1866.5" y="725.5"><tspan x="1866.5">5+3+3+2+3</tspan><tspan x="1866.5" dy="16">+2+2+1</tspan></text></g>
</g>

<!-- column 18 -->
<g id="col18">
<g id="c18-0"><rect class="c g" x="1931.5" y="897" width="98" height="44"/><text class="t tz" x="1980.5" y="923.5">全局上下文</text></g>
<g id="c18-1"><rect class="c p" x="1931.5" y="852" width="98" height="45"/><text class="t" x="1980.5" y="879">f(8)</text></g>
<g id="c18-2"><rect class="c p" x="1931.5" y="807" width="98" height="45"/><text class="t" x="1980.5" y="834">f(7)+f(6)</text></g>
<g id="c18-3"><rect class="c o" x="1931.5" y="763" width="98" height="44"/><text class="t to" x="1980.5" y="789.5">8+5+5+3</text></g>
</g>

<!-- column 19 -->
<g id="col19">
<g id="c19-0"><rect class="c g" x="2045.5" y="897" width="98" height="45"/><text class="t tz" x="2094.5" y="924">全局上下文</text></g>
<g id="c19-1"><rect class="c p" x="2045.5" y="852" width="98" height="45"/><text class="t" x="2094.5" y="879">f(8)</text></g>
<g id="c19-2"><rect class="c o" x="2045.5" y="808" width="98" height="44"/><text class="t to" x="2094.5" y="834.5">13+8</text></g>
</g>

<!-- column 20 -->
<g id="col20">
<g id="c20-0"><rect class="c g" x="2160.5" y="897" width="98" height="45"/><text class="t tz" x="2209.5" y="924">全局上下文</text></g>
<g id="c20-1"><rect class="c o" x="2160.5" y="852" width="98" height="45"/><text class="t to" x="2209.5" y="879">21</text></g>
</g>
</svg>
